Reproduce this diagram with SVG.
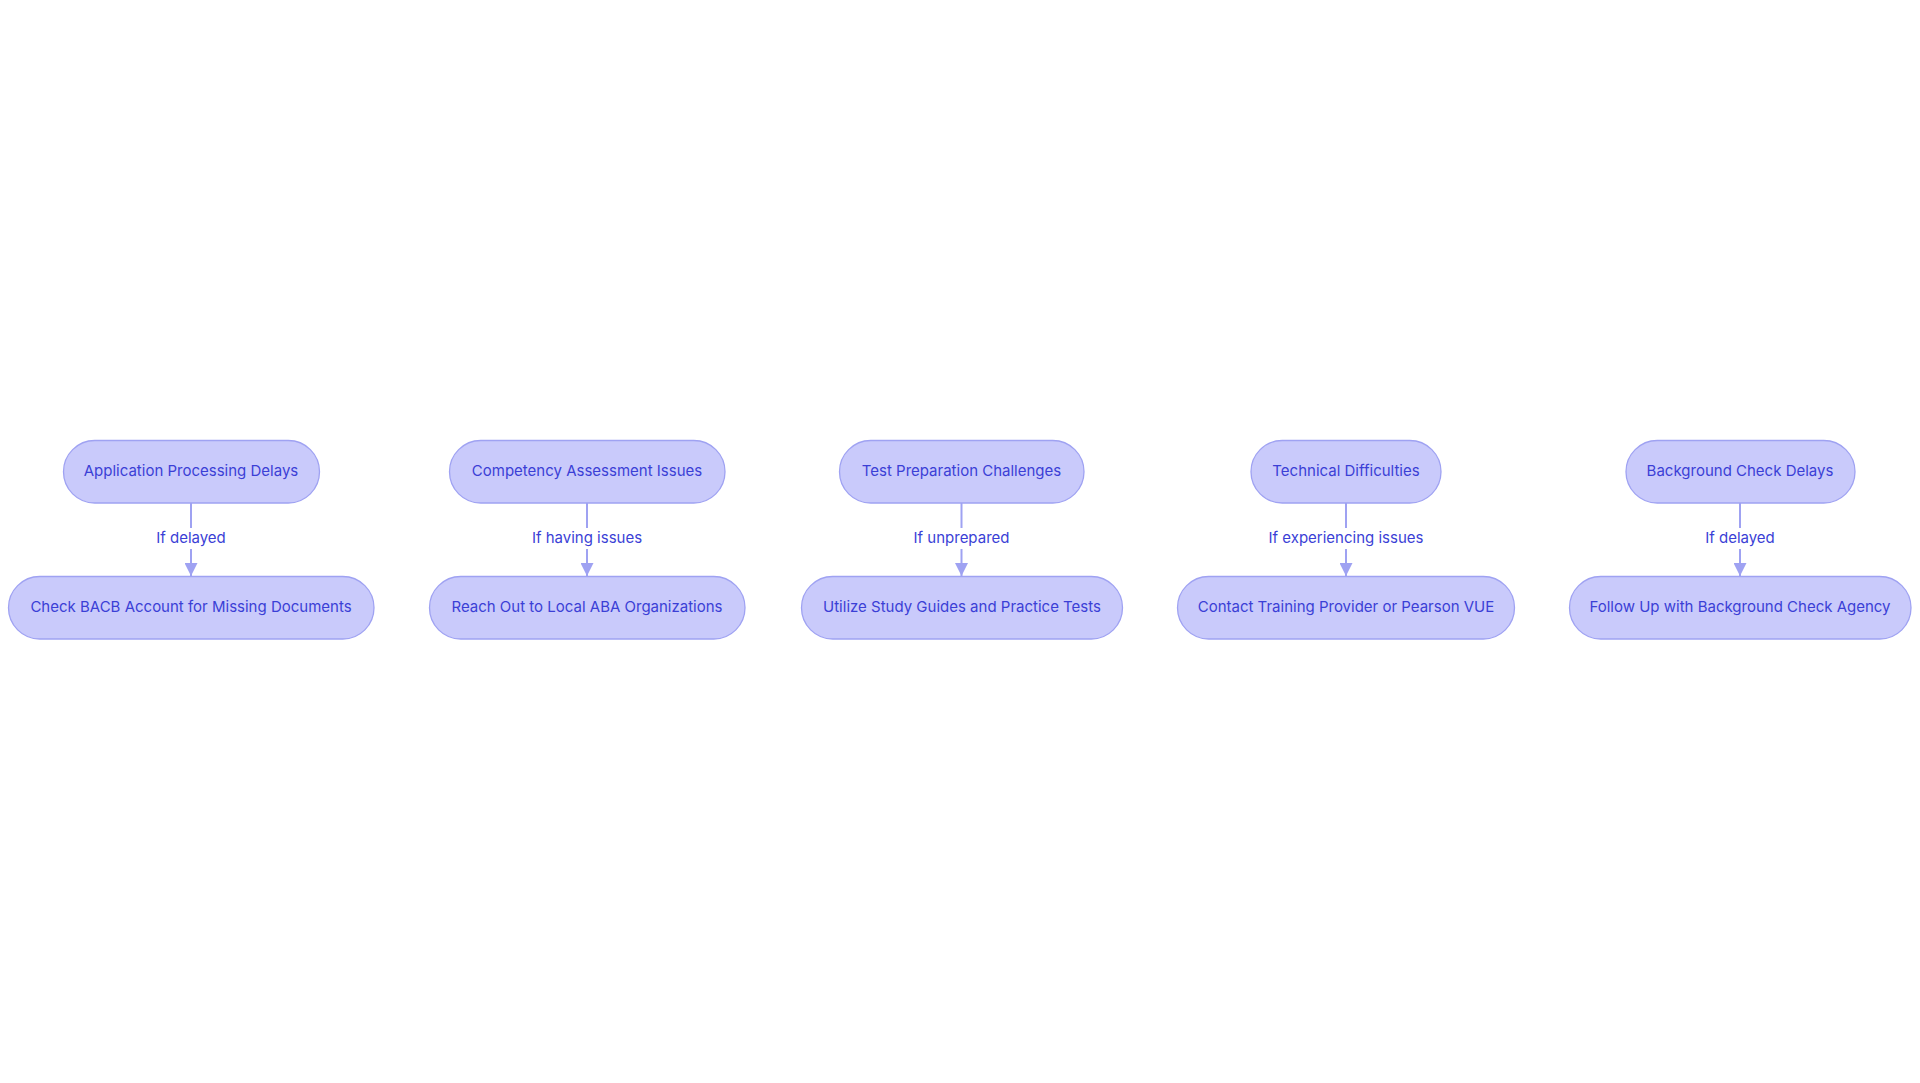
<svg xmlns="http://www.w3.org/2000/svg" width="1920" height="1083" viewBox="0 0 1920 1083">
<style>
.node rect{fill:#c9cafb;stroke:#9fa2f2;stroke-width:1.3}
.node text{font-family:Inter,"Noto Sans","Liberation Sans",sans-serif;font-size:15px;fill:#3b3fd6;text-anchor:middle;dominant-baseline:central}
.edge path{fill:none;stroke:#9fa2f2;stroke-width:2}
.lbl rect{fill:#ffffff}
.lbl text{font-family:Inter,"Noto Sans","Liberation Sans",sans-serif;font-size:15px;fill:#3b3fd6;text-anchor:middle;dominant-baseline:central}
</style>
<defs>
<marker id="arr" viewBox="0 0 10 10" refX="10" refY="5" markerWidth="13" markerHeight="13" markerUnits="userSpaceOnUse" orient="auto">
<path d="M0,0 L10,5 L0,10 z" fill="#9fa2f2"/>
</marker>
</defs>
<rect width="1920" height="1083" fill="#ffffff"/>
<g id="connectors">
<g class="edge"><path d="M191,503 V576" marker-end="url(#arr)"/></g>
<g class="edge"><path d="M587,503 V576" marker-end="url(#arr)"/></g>
<g class="edge"><path d="M961.5,503 V576" marker-end="url(#arr)"/></g>
<g class="edge"><path d="M1346,503 V576" marker-end="url(#arr)"/></g>
<g class="edge"><path d="M1740,503 V576" marker-end="url(#arr)"/></g>
<g class="lbl"><rect x="155" y="528" width="72" height="21"/><text x="191" y="537.5">If delayed</text></g>
<g class="lbl"><rect x="532" y="528" width="110" height="21"/><text x="587" y="537.5">If having issues</text></g>
<g class="lbl"><rect x="912" y="528" width="99" height="21"/><text x="961.5" y="537.5">If unprepared</text></g>
<g class="lbl"><rect x="1270" y="528" width="152" height="21"/><text x="1346" y="537.5">If experiencing issues</text></g>
<g class="lbl"><rect x="1704" y="528" width="72" height="21"/><text x="1740" y="537.5">If delayed</text></g>
</g>
<g id="n1" class="node"><rect x="63.5" y="440.5" width="256" height="62.5" rx="31.25"/><text x="191" y="470.5">Application Processing Delays</text></g>
<g id="n2" class="node"><rect x="449.5" y="440.5" width="275.5" height="62.5" rx="31.25"/><text x="587" y="470.5">Competency Assessment Issues</text></g>
<g id="n3" class="node"><rect x="839.5" y="440.5" width="244.5" height="62.5" rx="31.25"/><text x="961.5" y="470.5">Test Preparation Challenges</text></g>
<g id="n4" class="node"><rect x="1251" y="440.5" width="190" height="62.5" rx="31.25"/><text x="1346" y="470.5">Technical Difficulties</text></g>
<g id="n5" class="node"><rect x="1626" y="440.5" width="229" height="62.5" rx="31.25"/><text x="1740" y="470.5">Background Check Delays</text></g>
<g id="n6" class="node"><rect x="8.5" y="576.5" width="365.5" height="62.5" rx="31.25"/><text x="191" y="606.5">Check BACB Account for Missing Documents</text></g>
<g id="n7" class="node"><rect x="429.5" y="576.5" width="315.5" height="62.5" rx="31.25"/><text x="587" y="606.5">Reach Out to Local ABA Organizations</text></g>
<g id="n8" class="node"><rect x="801.5" y="576.5" width="321" height="62.5" rx="31.25"/><text x="962" y="606.5">Utilize Study Guides and Practice Tests</text></g>
<g id="n9" class="node"><rect x="1177.5" y="576.5" width="337" height="62.5" rx="31.25"/><text x="1346" y="606.5">Contact Training Provider or Pearson VUE</text></g>
<g id="n10" class="node"><rect x="1569.5" y="576.5" width="341.5" height="62.5" rx="31.25"/><text x="1740" y="606.5">Follow Up with Background Check Agency</text></g>
</svg>
